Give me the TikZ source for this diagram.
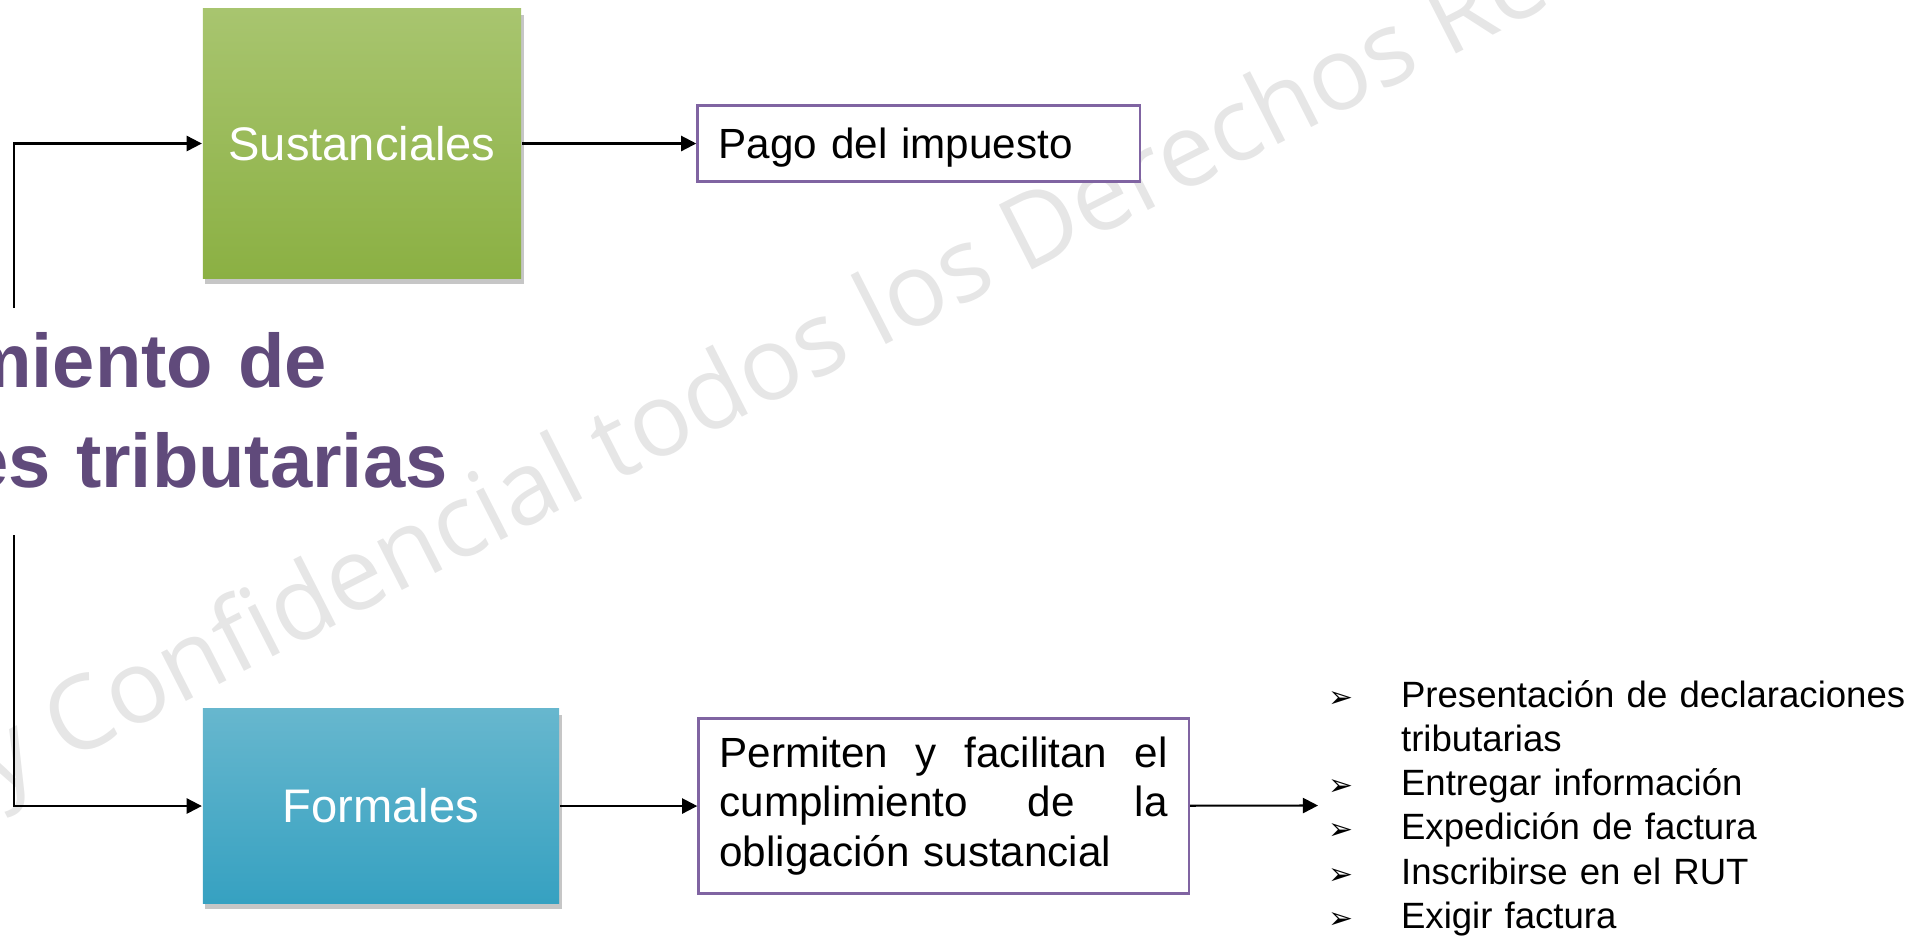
\documentclass[tikz,border=0pt]{standalone}
\usepackage{fontspec}
\setmainfont{Liberation Sans}
\newfontfamily\marcafont{Open Sans}
\newfontfamily\vinetafont{DejaVu Sans}
\usepackage{xcolor}
\definecolor{colorSustancialA}{HTML}{A8C56F}
\definecolor{colorSustancialB}{HTML}{8BB043}
\definecolor{colorFormalA}{HTML}{67B7CE}
\definecolor{colorFormalB}{HTML}{36A1C1}
\definecolor{colorTitulo}{HTML}{604A7B}
\definecolor{colorMarco}{HTML}{8064A2}
\definecolor{colorMarca}{HTML}{E6E6E6}
\usepackage{tikz}
\usetikzlibrary{arrows.meta, positioning, shadows}
\newcommand{\vineta}{\leavevmode\llap{\raisebox{0pt}{\vinetafont\fontsize{8.5pt}{8.5pt}\selectfont ➢}\hspace{13.5pt}}}

\begin{document}
\begin{tikzpicture}[x=0.01cm, y=-0.01cm, >={Triangle[length=4.3pt, width=4.3pt]}, line width=0.6pt,
  caja/.style={rectangle, text=white, font=\fontsize{13.4pt}{16pt}\selectfont,
    drop shadow={shadow xshift=0.7pt, shadow yshift=-1.8pt, opacity=0.45}},
  marco/.style={rectangle, draw=colorMarco, line width=0.7pt, fill=white, align=left,
    inner xsep=0.21cm, inner ysep=0pt, font=\fontsize{12pt}{14.2pt}\selectfont},
  titulo/.style={text=colorTitulo, text width=9.5cm, align=center, inner sep=0pt,
    font=\bfseries\fontsize{21.6pt}{28.7pt}\selectfont},
  lista/.style={text width=5.3cm, align=left, inner sep=0pt, font=\fontsize{10.4pt}{12.6pt}\selectfont},
  marca/.style={text=colorMarca, inner sep=0pt, font=\marcafont\fontsize{29pt}{30pt}\selectfont}]
\useasboundingbox (0,0) rectangle (1913,935);
\clip (0,0) rectangle (1913,935);
\node[marca, anchor=base west, rotate=27] (marca) at (-4,798) {y Confidencial todos los Derechos Reservados};

\node[caja, top color=colorSustancialA, bottom color=colorSustancialB, minimum width=3.18cm, minimum height=2.69cm] (sust) at (362,143.5) {Sustanciales};
\node[caja, top color=colorFormalA, bottom color=colorFormalB, minimum width=3.56cm, minimum height=1.94cm] (form) at (381,806) {Formales};
\node[marco, right=1.74cm of sust, text width=4.0cm, minimum height=0.76cm, text depth=0pt] (pago) {Pago del impuesto};
\node[marco, right=1.37cm of form, text width=4.48cm, minimum height=1.75cm] (perm) {Permiten\hfill y\hfill facilitan\hfill el\\cumplimiento\hfill de\hfill la\\obligación sustancial};
\node[titulo, anchor=base] (titulo) at (17,387) {Cumplimiento de\\obligaciones tributarias};
\node[lista, anchor=base west] (lista) at (1400,707) {\vineta Presentación de declaraciones\\tributarias\\\vineta Entregar información\\\vineta Expedición de factura\\\vineta Inscribirse en el RUT\\\vineta Exigir factura};

\coordinate (troncoA) at (14,308);
\coordinate (troncoB) at (14,535);
\coordinate (fin) at (1318,805.5);
\draw[->] (troncoA) |- (sust);
\draw[->] (troncoB) |- (form);
\draw[->] (sust) -- (pago);
\draw[->] (form.east) -- (form.east -| perm.west);
\draw[->] (perm) -- (fin);
\end{tikzpicture}
\end{document}
